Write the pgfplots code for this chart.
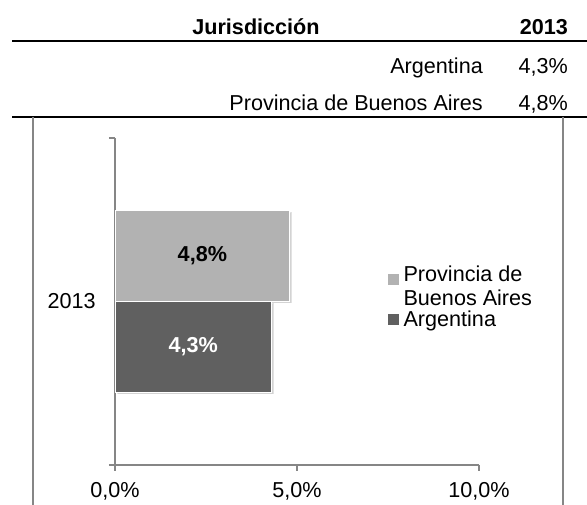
\documentclass[border=0pt]{standalone}
\usepackage{pgfplots}
\pgfplotsset{compat=1.18}
\usepackage{fontspec}
\setmainfont{Liberation Sans}
\usetikzlibrary{shadows}
\definecolor{lightbar}{HTML}{B2B2B2}
\definecolor{darkbar}{HTML}{606060}
\definecolor{axgray}{HTML}{868686}
\newcommand{\fs}{\fontsize{21.6}{24}\selectfont}
\begin{document}
\begin{tikzpicture}
\useasboundingbox (0,0) rectangle (587pt,505pt);
\fs
% table header
\node[anchor=base, font=\bfseries\fs] at (256pt,470pt) {Jurisdicción};
\node[anchor=base east, font=\bfseries\fs, inner sep=0pt] at (568pt,470pt) {2013};
\draw[black, line width=1.5pt] (12pt,464pt) -- (587pt,464pt);
\node[anchor=base east, inner sep=0pt, font=\fs] at (483pt,431pt) {Argentina};
\node[anchor=base east, inner sep=0pt, font=\fs] at (568pt,431pt) {4,3\%};
\node[anchor=base east, inner sep=0pt, font=\fs] at (483pt,394pt) {Provincia de Buenos Aires};
\node[anchor=base east, inner sep=0pt, font=\fs] at (568pt,394pt) {4,8\%};
\draw[black, line width=1.5pt] (12pt,388pt) -- (587pt,388pt);
% frame
\draw[axgray, line width=1.2pt] (33pt,388pt) -- (33pt,0pt);
\draw[axgray, line width=1.2pt] (563pt,388pt) -- (563pt,0pt);
\begin{axis}[
  at={(115pt,40pt)}, anchor=south west,
  scale only axis, width=364pt, height=327pt,
  xmin=0, xmax=10, ymin=-0.5, ymax=0.5,
  axis lines*=left,
  axis line style={axgray, line width=1.5pt},
  every tick/.style={axgray, line width=1.5pt},
  tick align=outside, major tick length=6pt,
  xtick={0,5,10},
  xticklabels={{0,0\%},{5,0\%},{10,0\%}},
  ytick={-0.5,0.5}, yticklabels={},
  extra y ticks={0}, extra y tick labels={2013},
  extra y tick style={major tick length=0pt},
  ticklabel style={font=\fs, text=black},
  yticklabel style={xshift=-12pt},
  xticklabel style={yshift=-4pt},
  xbar, bar width=91pt,
  legend style={draw=none, fill=none, at={(0.74,0.62)}, anchor=north west,
    font=\fs, row sep=0pt,
    nodes={align=left, inner sep=1pt}},
  legend cell align=left,
]
\addplot[fill=lightbar, draw=white, line width=1.2pt, bar shift=45.5pt,
  drop shadow={shadow xshift=2pt, shadow yshift=-2pt, opacity=0.35},
  legend image code/.code={%
    \pgfsetfillcolor{lightbar}%
    \pgfpathrectangle{\pgfpoint{0pt}{2pt}}{\pgfpoint{11pt}{11pt}}\pgfusepath{fill}%
    \pgfpathrectangle{\pgfpoint{0pt}{-5pt}}{\pgfpoint{15pt}{18pt}}\pgfusepath{discard}}]
  coordinates {(4.8,0)};
\addlegendentry{Provincia de\\Buenos Aires}
\addplot[fill=darkbar, draw=white, line width=1.2pt, bar shift=-45.5pt,
  drop shadow={shadow xshift=2pt, shadow yshift=-2pt, opacity=0.35},
  legend image code/.code={%
    \pgfsetfillcolor{darkbar}%
    \pgfpathrectangle{\pgfpoint{0pt}{-5.5pt}}{\pgfpoint{11pt}{11pt}}\pgfusepath{fill}%
    \pgfpathrectangle{\pgfpoint{0pt}{-5.5pt}}{\pgfpoint{15pt}{11pt}}\pgfusepath{discard}}]
  coordinates {(4.3,0)};
\addlegendentry{Argentina}
\node[font=\bfseries\fs, text=black] at (axis cs:2.4,0) [yshift=45.5pt] {4,8\%};
\node[font=\bfseries\fs, text=white] at (axis cs:2.15,0) [yshift=-45.5pt] {4,3\%};
\end{axis}
\end{tikzpicture}
\end{document}
